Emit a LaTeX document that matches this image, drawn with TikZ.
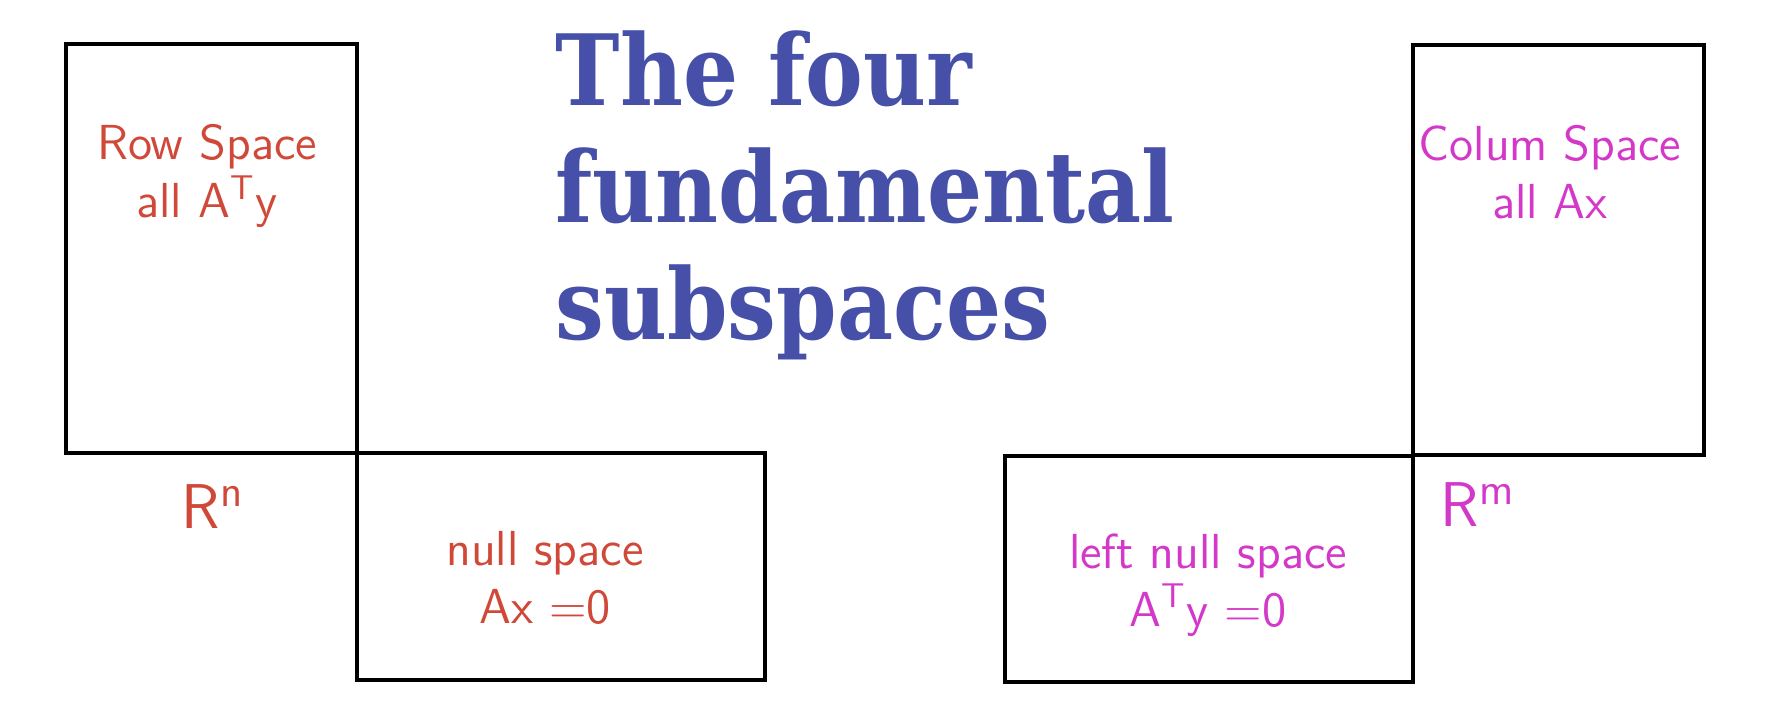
\documentclass[tikz,border=0pt]{standalone}
\usepackage{graphicx}
\usepackage{fontspec}
\usepackage{tikz}

\newfontfamily\titlefont{DejaVu Serif}
\newcommand{\narrowline}[1]{\scalebox{0.88}[1]{#1}}

\definecolor{titleblue}{RGB}{70,80,168}
\definecolor{redpen}{RGB}{208,72,56}
\definecolor{pinkpen}{RGB}{212,56,200}

\begin{document}
\begin{tikzpicture}[x=0.1mm, y=-0.1mm,
    box/.style={draw, line width=0.9pt, anchor=north west, inner sep=0pt, outer sep=0pt},
    pen/.style={font=\sffamily\fontsize{14}{16.5}\selectfont, align=center, inner sep=0pt}]
    \useasboundingbox (0,0) rectangle (1775,728);

    % R^n : row space and null space
    \node[box, minimum width=29.1mm, minimum height=40.9mm] (rowbox) at (66,44) {};
    \node[box, minimum width=40.8mm, minimum height=22.7mm] (nullbox) at (rowbox.south east) {};

    % R^m : column space and left null space
    \node[box, minimum width=29.1mm, minimum height=41mm] (colbox) at (1413,45) {};
    \node[box, anchor=north east, minimum width=40.8mm, minimum height=22.6mm] (leftnullbox) at (1413,456) {};

    \node[anchor=north west, inner sep=0pt, text=titleblue, align=left,
          font=\titlefont\bfseries\fontsize{28}{33.3}\selectfont] (title) at (555,30)
          {\narrowline{The four}\\\narrowline{fundamental}\\\narrowline{subspaces}};

    % handwritten labels
    \node[pen, text=redpen] (rowtext) at (207,176) {Row Space\\all A\textsuperscript{T}y};
    \node[pen, text=redpen] (nulltext) at (545,578) {null space\\Ax =0};
    \node[pen, text=redpen, font=\sffamily\fontsize{18}{20}\selectfont] (rn) at (213,507) {R\textsuperscript{n}};

    \node[pen, text=pinkpen] (coltext) at (1550,172) {Colum Space\\all Ax};
    \node[pen, text=pinkpen] (leftnulltext) at (1208,585) {left null space\\A\textsuperscript{T}y =0};
    \node[pen, text=pinkpen, font=\sffamily\fontsize{18}{20}\selectfont] (rm) at (1478,505) {R\textsuperscript{m}};
\end{tikzpicture}
\end{document}
